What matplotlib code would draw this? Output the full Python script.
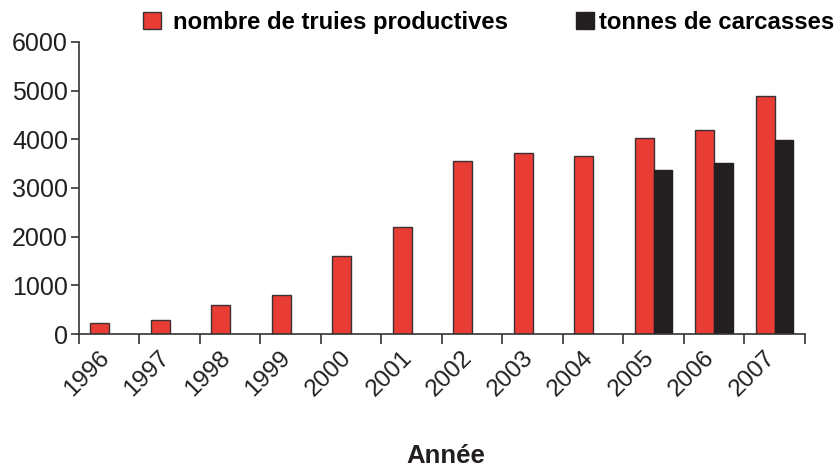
import numpy as np
import matplotlib.pyplot as plt
from matplotlib.transforms import ScaledTranslation

# données
annees = ["1996", "1997", "1998", "1999", "2000", "2001",
          "2002", "2003", "2004", "2005", "2006", "2007"]
truies = [220, 290, 600, 800, 1600, 2190, 3550, 3720, 3650, 4020, 4190, 4900]
carcasses = [0, 0, 0, 0, 0, 0, 0, 0, 0, 3380, 3520, 3990]

plt.rcParams["font.family"] = ["Liberation Sans", "DejaVu Sans"]

rouge = "#e83c34"
noir = "#231f20"

fig = plt.figure(figsize=(8.35, 4.68), dpi=100)
ax = fig.add_axes([0.0946, 0.2863, 0.8694, 0.624])

x = np.arange(len(annees))
w = 0.31
b1 = ax.bar(x - w / 2, truies, width=w, color=rouge, edgecolor="#3a3035",
            linewidth=1.0)
mask = np.array(carcasses) > 0
b2 = ax.bar(x[mask] + w / 2, np.array(carcasses)[mask], width=w, color=noir,
            edgecolor=noir, linewidth=1.0)

ax.set_xlim(-0.5, len(annees) - 0.5)
ax.set_ylim(0, 6000)
ax.set_yticks(range(0, 6001, 1000))
ax.tick_params(axis="y", labelsize=18, length=6, width=1.2, color="#333333",
               labelcolor="#231f20", pad=2)

# traits de graduation entre les années, étiquettes au centre
ax.set_xticks(np.arange(-0.5, len(annees), 1))
ax.set_xticklabels([])
ax.tick_params(axis="x", which="major", length=7, width=1.2, color="#333333")
ax.set_xticks(x, minor=True)
ax.set_xticklabels(annees, minor=True, rotation=45, ha="right", va="top",
                   rotation_mode="anchor", fontsize=17.5, color="#231f20")
ax.tick_params(axis="x", which="minor", length=0, pad=9)
decal = ScaledTranslation(-11 / 100, 0, fig.dpi_scale_trans)
for lab in ax.get_xticklabels(minor=True):
    lab.set_transform(lab.get_transform() + decal)

for s in ["top", "right"]:
    ax.spines[s].set_visible(False)
for s in ["left", "bottom"]:
    ax.spines[s].set_linewidth(1.2)
    ax.spines[s].set_color("#333333")

fig.text(0.534, 0.026, "Année", ha="center", va="center", fontsize=18.5,
         fontweight="bold", color="#231f20")

prop = {"weight": "bold", "size": 17.2}
leg1 = ax.legend([b1], ["nombre de truies productives"], loc="center left",
                 bbox_to_anchor=(0.088, 1.068), frameon=False, prop=prop,
                 handlelength=0.75, handleheight=0.75, handletextpad=0.5,
                 borderaxespad=0.0, borderpad=0.0)
ax.add_artist(leg1)
ax.legend([b2], ["tonnes de carcasses"], loc="center left",
          bbox_to_anchor=(0.685, 1.068), frameon=False, prop=prop,
          handlelength=0.75, handleheight=0.75, handletextpad=0.22,
          borderaxespad=0.0, borderpad=0.0)

fig.savefig("out.png", dpi=100)
